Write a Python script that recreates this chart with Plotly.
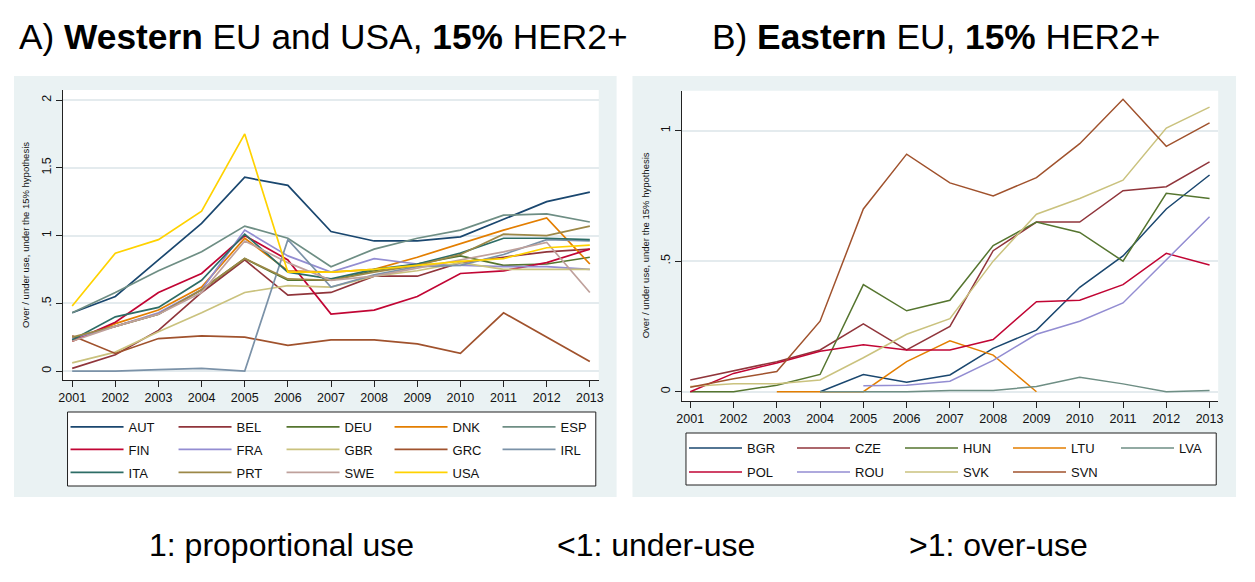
import plotly.graph_objects as go

# the page body has an 8px margin; figure sized so it fits the 1255x582 window exactly
OFF = 8
W, H = 1255 - 2 * OFF, 582 - 2 * OFF

years = list(range(2001, 2014))

# ---- Panel A: Western EU and USA ----
west_names = ["AUT", "BEL", "DEU", "DNK", "ESP", "FIN", "FRA", "GBR", "GRC", "IRL", "ITA", "PRT", "SWE", "USA"]
AUT = [0.43, 0.55, 0.82, 1.09, 1.43, 1.37, 1.03, 0.96, 0.96, 0.99, 1.12, 1.25, 1.32]
BEL = [0.02, 0.12, 0.30, 0.58, 0.82, 0.56, 0.58, 0.70, 0.70, 0.80, 0.84, 0.88, 0.90]
DEU = [0.24, 0.33, 0.42, 0.60, 0.83, 0.67, 0.67, 0.74, 0.79, 0.85, 0.78, 0.79, 0.84]
DNK = [0.22, 0.35, 0.45, 0.62, 0.98, 0.74, 0.73, 0.75, 0.84, 0.94, 1.04, 1.13, 0.79]
ESP = [0.43, 0.58, 0.74, 0.88, 1.07, 0.98, 0.77, 0.90, 0.98, 1.04, 1.15, 1.16, 1.10]
FIN = [0.22, 0.36, 0.58, 0.72, 1.00, 0.82, 0.42, 0.45, 0.55, 0.72, 0.74, 0.80, 0.90]
FRA = [0.24, 0.33, 0.43, 0.60, 1.04, 0.85, 0.73, 0.83, 0.79, 0.78, 0.77, 0.77, 0.75]
GBR = [0.06, 0.14, 0.29, 0.43, 0.58, 0.63, 0.62, 0.70, 0.74, 0.80, 0.75, 0.75, 0.75]
GRC = [0.26, 0.13, 0.24, 0.26, 0.25, 0.19, 0.23, 0.23, 0.20, 0.13, 0.43, 0.25, 0.07]
IRL = [0.00, 0.00, 0.01, 0.02, 0.00, 0.97, 0.62, 0.71, 0.77, 0.78, 0.86, 0.97, 0.96]
ITA = [0.23, 0.40, 0.47, 0.67, 1.01, 0.73, 0.68, 0.75, 0.79, 0.87, 0.98, 0.98, 0.97]
PRT = [0.25, 0.33, 0.42, 0.60, 0.83, 0.68, 0.67, 0.73, 0.78, 0.86, 1.01, 1.00, 1.07]
SWE = [0.22, 0.33, 0.42, 0.58, 0.96, 0.80, 0.67, 0.70, 0.76, 0.82, 0.88, 0.95, 0.58]
USA = [0.48, 0.87, 0.97, 1.18, 1.75, 0.73, 0.73, 0.75, 0.78, 0.81, 0.83, 0.91, 0.93]
west_values = [AUT, BEL, DEU, DNK, ESP, FIN, FRA, GBR, GRC, IRL, ITA, PRT, SWE, USA]

# ---- Panel B: Eastern EU ----
east_names = ["BGR", "CZE", "HUN", "LTU", "LVA", "POL", "ROU", "SVK", "SVN"]
BGR = [None, None, None, 0.0, 0.066, 0.036, 0.064, 0.166, 0.236, 0.40, 0.52, 0.70, 0.83]
CZE = [0.045, 0.08, 0.115, 0.16, 0.26, 0.16, 0.25, 0.54, 0.65, 0.65, 0.77, 0.785, 0.88]
HUN = [0.0, 0.0, 0.025, 0.066, 0.41, 0.31, 0.35, 0.56, 0.65, 0.61, 0.50, 0.76, 0.74]
LTU = [None, None, 0.0, 0.0, 0.0, 0.115, 0.195, 0.14, 0.0, None, None, None, None]
LVA = [None, None, None, 0.0, 0.0, 0.0, 0.005, 0.005, 0.02, 0.055, 0.03, 0.0, 0.005]
POL = [0.0, 0.07, 0.11, 0.155, 0.18, 0.16, 0.16, 0.20, 0.345, 0.35, 0.41, 0.53, 0.485]
ROU = [None, None, None, None, 0.023, 0.025, 0.04, 0.12, 0.22, 0.27, 0.34, 0.505, 0.67]
SVK = [0.02, 0.03, 0.03, 0.045, 0.13, 0.22, 0.28, 0.50, 0.68, 0.74, 0.81, 1.01, 1.09]
SVN = [0.017, 0.05, 0.077, 0.27, 0.70, 0.91, 0.80, 0.75, 0.82, 0.95, 1.12, 0.94, 1.03]
east_values = [BGR, CZE, HUN, LTU, LVA, POL, ROU, SVK, SVN]

# Stata s2color palette
palette = ["#1a476f", "#90353b", "#55752f", "#e37e00", "#6e8e84", "#c10534", "#938dd2",
           "#cac27e", "#a0522d", "#7b92a8", "#2d6d66", "#9c8847", "#bfa19c", "#ffd200"]

west_yticks = [0, 0.5, 1, 1.5, 2]
west_yticktext = ["0", ".5", "1", "1.5", "2"]
east_yticks = [0, 0.5, 1]
east_yticktext = ["0", ".5", "1"]

title_a = "A) <b>Western</b> EU and USA, <b>15%</b> HER2+"
title_b = "B) <b>Eastern</b> EU, <b>15%</b> HER2+"
ytitle = "Over / under use, under the 15% hypothesis"
notes = ["1: proportional use", "<1: under-use", ">1: over-use"]

FONT = "Liberation Sans, Arial, sans-serif"


def px(x):
    return (x - OFF) / W


def py(y):
    return 1 - (y - OFF) / H


fig = go.Figure()

# legend rows
west_rows = [west_names[0:5], west_names[5:10], west_names[10:14]]
east_rows = [east_names[0:5], east_names[5:9]]
west_leg = {}
for i, row in enumerate(west_rows):
    for n in row:
        west_leg[n] = "legend" if i == 0 else "legend%d" % (i + 1)
east_leg = {}
for i, row in enumerate(east_rows):
    for n in row:
        east_leg[n] = "legend%d" % (i + 4)

for i, (n, v) in enumerate(zip(west_names, west_values)):
    fig.add_trace(go.Scatter(x=years, y=v, mode="lines", name=n,
                             line=dict(color=palette[i], width=1.7),
                             xaxis="x", yaxis="y", legend=west_leg[n]))
for i, (n, v) in enumerate(zip(east_names, east_values)):
    fig.add_trace(go.Scatter(x=years, y=v, mode="lines", name=n,
                             line=dict(color=palette[i], width=1.5),
                             xaxis="x2", yaxis="y2", legend=east_leg[n]))

axis_common = dict(showline=True, linecolor="#222", linewidth=1, ticks="outside",
                   ticklen=6, tickcolor="#222", tickfont=dict(family=FONT, size=12.5, color="#111"),
                   zeroline=False, mirror=False)

fig.update_layout(
    xaxis=dict(domain=[px(57), px(598)], anchor="y", range=[2000.777, 2013.207],
               tickvals=years, showgrid=False, **axis_common),
    yaxis=dict(domain=[py(380), py(90)], anchor="x", range=[-0.066, 2.074],
               tickvals=west_yticks, ticktext=west_yticktext, tickangle=-90,
               showgrid=True, gridcolor="#e4ebee", gridwidth=1.5, **axis_common),
    xaxis2=dict(domain=[px(682), px(1223)], anchor="y2", range=[2000.81, 2013.2],
                tickvals=years, showgrid=False, **axis_common),
    yaxis2=dict(domain=[py(401), py(90.7)], anchor="x2", range=[-0.0356, 1.153],
                tickvals=east_yticks, ticktext=east_yticktext, tickangle=-90,
                showgrid=True, gridcolor="#e4ebee", gridwidth=1.5, **axis_common),
)

leg_common = dict(orientation="h", xanchor="left", yanchor="middle", bgcolor="rgba(0,0,0,0)",
                  borderwidth=0, entrywidth=40, entrywidthmode="pixels", itemwidth=53,
                  font=dict(family=FONT, size=13, color="#111"), traceorder="normal",
                  itemclick=False, itemdoubleclick=False)
fig.update_layout(
    legend=dict(x=px(60), y=py(427), **leg_common),
    legend2=dict(x=px(60), y=py(449.5), **leg_common),
    legend3=dict(x=px(60), y=py(472.5), **leg_common),
    legend4=dict(x=px(684), y=py(448), **leg_common),
    legend5=dict(x=px(684), y=py(472), **leg_common),
)

shapes = [
    # graph region backgrounds
    dict(type="rect", xref="paper", yref="paper", x0=px(8), x1=px(616), y0=py(497), y1=py(76),
         fillcolor="#eaf2f3", line=dict(width=0), layer="below"),
    dict(type="rect", xref="paper", yref="paper", x0=px(632), x1=px(1241), y0=py(497), y1=py(76),
         fillcolor="#eaf2f3", line=dict(width=0), layer="below"),
    # white plot regions
    dict(type="rect", xref="paper", yref="paper", x0=px(57), x1=px(598), y0=py(380), y1=py(90),
         fillcolor="white", line=dict(width=0), layer="below"),
    dict(type="rect", xref="paper", yref="paper", x0=px(682), x1=px(1223), y0=py(401), y1=py(90.7),
         fillcolor="white", line=dict(width=0), layer="below"),
    # legend boxes
    dict(type="rect", xref="paper", yref="paper", x0=px(62), x1=px(595), y0=py(486), y1=py(412),
         fillcolor="white", line=dict(color="#222", width=1), layer="below"),
    dict(type="rect", xref="paper", yref="paper", x0=px(686), x1=px(1221), y0=py(485), y1=py(433),
         fillcolor="white", line=dict(color="#222", width=1), layer="below"),
]

annotations = [
    dict(text=title_a, x=px(320), y=py(36), xref="paper", yref="paper", showarrow=False,
         xanchor="center", yanchor="middle", font=dict(family=FONT, size=35.3, color="black")),
    dict(text=title_b, x=px(938), y=py(36), xref="paper", yref="paper", showarrow=False,
         xanchor="center", yanchor="middle", font=dict(family=FONT, size=35.3, color="black")),
    dict(text=ytitle, x=px(20), y=py(235), xref="paper", yref="paper", showarrow=False,
         textangle=-90, xanchor="center", yanchor="middle", font=dict(family=FONT, size=9.5, color="#111")),
    dict(text=ytitle, x=px(645), y=py(245), xref="paper", yref="paper", showarrow=False,
         textangle=-90, xanchor="center", yanchor="middle", font=dict(family=FONT, size=9.5, color="#111")),
]
for t, cx in zip(notes, [278, 656, 1001]):
    annotations.append(dict(text=t, x=px(cx), y=py(545), xref="paper", yref="paper", showarrow=False,
                            xanchor="center", yanchor="middle", font=dict(family=FONT, size=32, color="black")))

fig.update_layout(
    width=W, height=H, margin=dict(l=0, r=0, t=0, b=0),
    paper_bgcolor="white", plot_bgcolor="white",
    shapes=shapes, annotations=annotations,
    font=dict(family=FONT),
)

fig.write_html("out.html")
